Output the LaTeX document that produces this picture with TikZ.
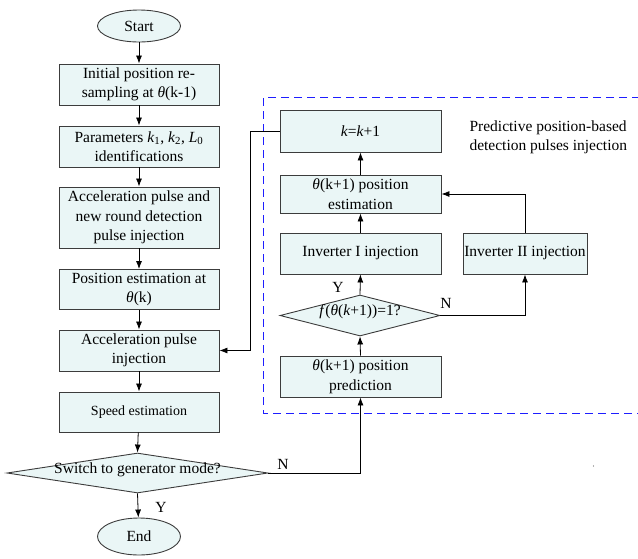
\documentclass[tikz,border=0pt]{standalone}
\usepackage{fontspec}
\setmainfont{Liberation Serif}
\usetikzlibrary{shapes.geometric,arrows.meta}
\definecolor{boxfill}{RGB}{234,246,246}
\definecolor{regionblue}{RGB}{30,30,255}
\definecolor{edge}{RGB}{60,60,60}
\begin{document}
\begin{tikzpicture}[x=1pt,y=-1pt,
  every node/.style={font=\fontsize{15.5}{19.5}\selectfont},
  proc/.style={draw=edge, fill=boxfill, rectangle, minimum width=160, inner sep=0pt, align=center, line width=0.9pt},
  term/.style={draw=edge, fill=boxfill, ellipse, minimum width=83, inner sep=0pt, line width=0.9pt},
  dec/.style={draw=edge, fill=boxfill, diamond, inner sep=0pt, line width=0.9pt},
  arr/.style={-{Latex[length=8pt,width=6pt]}, line width=0.8pt},
  region/.style={draw=regionblue, dash pattern=on 8pt off 5pt, line width=1.5pt},
  lbl/.style={inner sep=1pt}
]
\useasboundingbox (0,0) rectangle (638,558);

% dashed region
\draw[region] (640,97.5) -- (263.5,97.5) -- (263.5,413.5) -- (640,413.5);
\node[align=left, anchor=west] (ttl) at (466,137.5) {Predictive position-based\\detection pulses injection};

% left column
\node[term, minimum height=32] (start) at (139,26) {Start};
\node[proc, minimum height=41] (init) at (139,84.5) {Initial position re-\\sampling at \textit{θ}(k-1)};
\node[proc, minimum height=41] (param) at (139,146.5) {Parameters \textit{k}\textsubscript{1}, \textit{k}\textsubscript{2}, \textit{L}\textsubscript{0}\\identifications};
\node[proc, minimum height=61] (accpn) at (139,217.5) {Acceleration pulse and\\new round detection\\pulse injection};
\node[proc, minimum height=40] (posest) at (139,289.5) {Position estimation at\\\textit{θ}(k)};
\node[proc, minimum height=41] (accinj) at (139,350.5) {Acceleration pulse\\injection};
\node[proc, minimum height=40, font=\fontsize{14}{17}\selectfont] (speed) at (139,412) {Speed estimation};
\node[dec, minimum width=261, minimum height=40] (sw) at (137.5,473) {\smash{\makebox[0pt]{Switch to generator mode?}}};
\node[term, minimum height=37] (end) at (139,536.5) {End};

% right column
\node[proc, minimum width=161, minimum height=42] (kk) at (360.5,131) {\textit{k}=\textit{k}+1};
\node[proc, minimum width=161, minimum height=38] (estim) at (360.5,194) {\textit{θ}(k+1) position\\estimation};
\node[proc, minimum width=161, minimum height=41] (inv1) at (360.5,253.5) {Inverter I injection};
\node[proc, minimum width=124, minimum height=41] (inv2) at (525,253.5) {Inverter II injection};
\node[dec, minimum width=160, minimum height=41] (fdia) at (360,315.5) {\smash{\makebox[0pt]{\textit{f}(\textit{θ}(\textit{k}+1))=1?}}};
\node[proc, minimum width=161, minimum height=41] (pred) at (360.5,376.5) {\textit{θ}(k+1) position\\prediction};

% left column arrows
\draw[arr] (start) -- (init);
\draw[arr] (init) -- (param);
\draw[arr] (param) -- (accpn);
\draw[arr] (accpn) -- (posest);
\draw[arr] (posest) -- (accinj);
\draw[arr] (accinj) -- (speed);
\draw[arr] (speed) -- (sw.north);
\draw[arr] (sw.south) -- (end);
\node[lbl] (ylab) at (161,507) {Y};

% to prediction
\draw[arr] (sw.east) -| (pred.south);
\node[lbl] (nlab) at (283,464) {N};

% right column arrows
\draw[arr] (pred.north) -- (fdia.south);
\draw[arr] (fdia.north) -- (inv1.south);
\node[lbl] (ylab2) at (338,287) {Y};
\draw[arr] (fdia.east) -| (inv2.south);
\node[lbl] (nlab2) at (446,303) {N};
\draw[arr] (inv1.north) -- (estim.south);
\draw[arr] (inv2.north) |- (estim.east);
\draw[arr] (estim.north) -- (kk.south);

% feedback
\coordinate (fb) at (250,131);
\draw[arr] (kk.west) -- (fb) |- (accinj.east);

% stray dot
\fill[black!60] (593.5,466) circle (0.7pt);
\end{tikzpicture}
\end{document}
